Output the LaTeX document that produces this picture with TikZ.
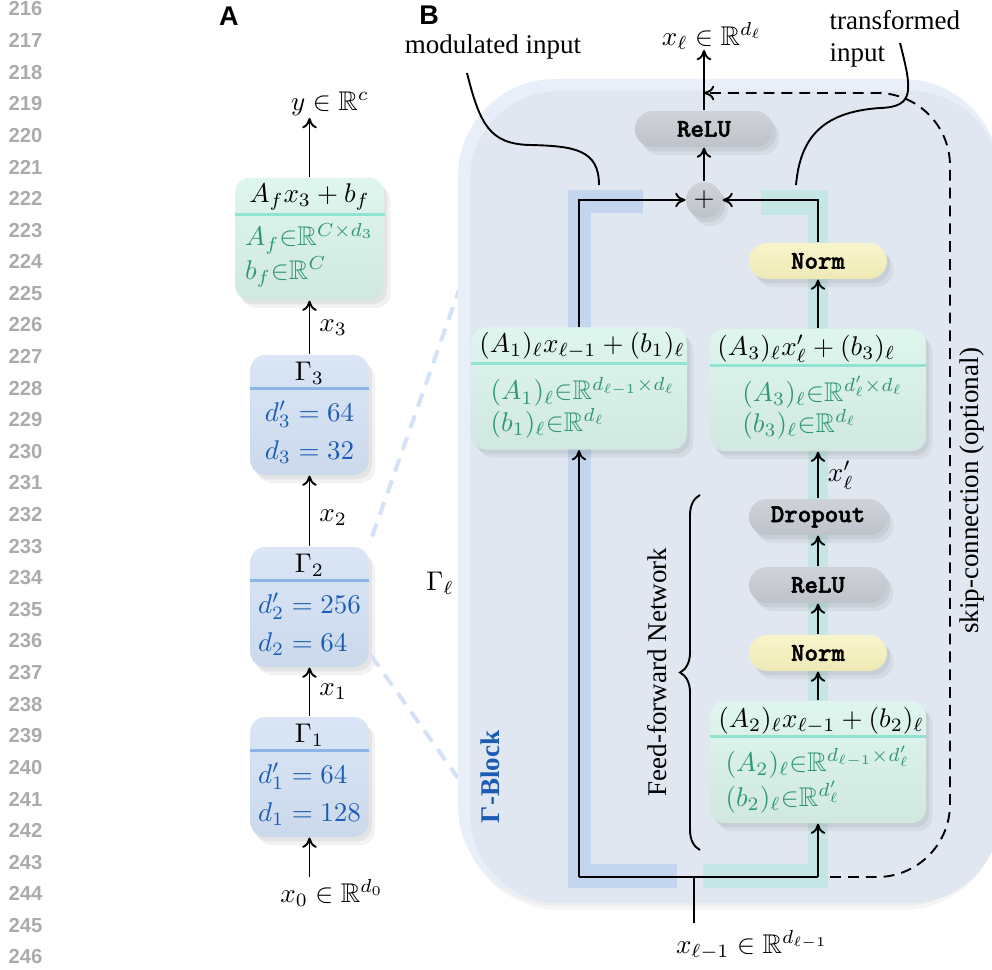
\documentclass[tikz,border=0pt]{standalone}
\usepackage[no-math]{fontspec}
\setmainfont{Liberation Serif}
\setsansfont{Liberation Sans}
\newfontfamily\pillfont{lmmonolt10-bold.otf}[FakeBold=1.8]
\usepackage{amsmath}
\usepackage{amssymb}
\usetikzlibrary{positioning,arrows.meta,decorations.pathreplacing}

\definecolor{bgpanel}{HTML}{E1E7F0}
\definecolor{bgedge}{HTML}{E9EFF8}
\definecolor{greentop}{HTML}{DFF6EF}
\definecolor{greenbot}{HTML}{D1E8E1}
\definecolor{greenhead}{HTML}{8FE3CF}
\definecolor{greentext}{HTML}{2F9678}
\definecolor{bluetop}{HTML}{DAE6F6}
\definecolor{bluebot}{HTML}{CBD9EB}
\definecolor{bluehead}{HTML}{8DB4E6}
\definecolor{bluetext}{HTML}{1C5CB5}
\definecolor{graytop}{HTML}{CFD2D9}
\definecolor{graybot}{HTML}{BEC2CA}
\definecolor{yellowtop}{HTML}{F8F4CC}
\definecolor{yellowbot}{HTML}{EFE9B4}
\definecolor{bandblue}{HTML}{C3D6EE}
\definecolor{bandgreen}{HTML}{C4E6E4}
\definecolor{zoomblue}{HTML}{D3E2F6}

\tikzset{
  >={To[length=3.8pt,width=5.4pt]},
  softshadow/.style={
      preaction={fill=black, fill opacity=0.05, transform canvas={xshift=2.4pt, yshift=-3pt}},
      preaction={fill=black, fill opacity=0.06, transform canvas={xshift=1.2pt, yshift=-1.6pt}}},
  linbox/.style={rectangle, rounded corners=5.5pt, top color=greentop,
      bottom color=greenbot, softshadow, minimum width=79.8pt,
      minimum height=45.2pt, inner sep=0pt},
  gambox/.style={rectangle, rounded corners=5.5pt, top color=bluetop,
      bottom color=bluebot, softshadow, minimum width=43.7pt,
      minimum height=44.4pt, inner sep=0pt},
  pill/.style={rectangle, rounded corners=6.6pt, minimum width=51pt,
      minimum height=13.3pt, inner sep=0pt, softshadow,
      font=\pillfont\fontsize{9.5}{10}\selectfont},
  graypill/.style={pill, top color=graytop, bottom color=graybot},
  normpill/.style={pill, top color=yellowtop, bottom color=yellowbot},
  headgreen/.style={greenhead, line width=1.1pt},
  headblue/.style={bluehead, line width=1.1pt},
  linbody/.style={align=left, text=greentext, inner sep=0pt,
      font=\fontsize{10}{11.5}\selectfont},
  gambody/.style={align=left, text=bluetext, inner sep=0pt,
      font=\fontsize{10}{14}\selectfont},
  wire/.style={line width=0.7pt},
  flow/.style={->, line width=0.7pt},
  skipline/.style={->, line width=0.7pt, dash pattern=on 4pt off 2.6pt},
  zoomline/.style={zoomblue, line width=1.5pt, dash pattern=on 5pt off 3.5pt},
  linenum/.style={anchor=east, inner sep=0pt, text=black!33,
      font=\sffamily\bfseries\fontsize{7.5}{8}\selectfont},
  panel/.style={font=\sffamily\bfseries\fontsize{10}{10}\selectfont}
}

\begin{document}
\begin{tikzpicture}[x=0.37pt,y=-0.37pt]
    \useasboundingbox (0,0) rectangle (992,970);

    % line numbers of the page
    \foreach \n in {216,...,246}
        \node[linenum] (ln\n) at (43,{9+(\n-216)*31.6}) {\n};

    \node[panel] (pa) at (229,16) {A};
    \node[panel] (pb) at (429,15) {B};

    % ---- panel A ----
    \foreach \i/\yc/\dA/\dB in {1/777/64/128, 2/607/256/64, 3/415/64/32} {
        \node[gambox] (g\i) at (309.5,\yc) {};
        \node (gt\i) at ([yshift=-6.8pt]g\i.north) {$\Gamma_\i$};
        \draw[headblue] ([yshift=-12.6pt]g\i.north west) -- ([yshift=-12.6pt]g\i.north east);
        \node[gambody] (gb\i) at ([yshift=-6.3pt]g\i.center) {$d'_\i = \dA$\\$d_\i = \dB$};
    }
    \node[linbox, minimum width=55.1pt] (fin) at (309.5,239) {};
    \node (fint) at ([yshift=-7.4pt]fin.north) {$A_f x_3 + b_f$};
    \draw[headgreen] ([yshift=-13.7pt]fin.north west) -- ([yshift=-13.7pt]fin.north east);
    \node[linbody, font=\fontsize{10}{11}\selectfont] (finb) at ([yshift=-5.9pt]fin.center)
        {$A_f{\in}\mathbb{R}^{C\times d_3}$\\$b_f{\in}\mathbb{R}^{C}$};

    \coordinate (x0in) at (309.5,877);
    \coordinate (yout) at (309.5,118);
    \node (x0lbl) at (332,893) {$x_0\in\mathbb{R}^{d_0}$};
    \node (ylbl) at (330,104) {$y\in\mathbb{R}^c$};
    \draw[flow] (x0in) -- (g1);
    \draw[flow] (g1) -- node[right] {$x_1$} (g2);
    \draw[flow] (g2) -- node[right, pos=0.4] {$x_2$} (g3);
    \draw[flow] (g3) -- node[right] {$x_3$} (fin);
    \draw[flow] (fin) -- (yout);

    \coordinate (zoomtop) at (459,290);
    \coordinate (zoombot) at (458,778);
    \draw[zoomline] ([shift={(3,-10)}]g2.north east) -- (zoomtop);
    \draw[zoomline] ([shift={(2,-12)}]g2.south east) -- (zoombot);
    \node (gl) at (440,583) {$\Gamma_\ell$};

    % ---- panel B ----
    \fill[black, fill opacity=0.04, rounded corners=36pt] (462,86) rectangle (1000,910);
    \fill[black, fill opacity=0.03, rounded corners=36pt] (460,82) rectangle (1000,906);
    \fill[bgedge, rounded corners=36pt] (458,79) rectangle (1000,903);
    \fill[bgpanel, rounded corners=33pt] (470,91) rectangle (1000,903);

    \fill[bandblue] (568,190) rectangle (591,888);
    \fill[bandblue] (591,190) rectangle (643,213);
    \fill[bandblue] (591,864) rectangle (677,888);
    \fill[bandgreen] (808,190) rectangle (828,888);
    \fill[bandgreen] (761,190) rectangle (808,215);
    \fill[bandgreen] (703,864) rectangle (808,888);

    \node[circle, minimum size=13.3pt, inner sep=0pt, top color=graytop,
        bottom color=graybot, softshadow] (plus) at (704,200) {$+$};
    \node[graypill] (relu1) at (704,129) {ReLU};
    \node[normpill] (norm1) at (818,261) {Norm};
    \node[graypill] (drop) at (818,517) {Dropout};
    \node[graypill] (relu2) at (818,585) {ReLU};
    \node[normpill] (norm2) at (818,653) {Norm};

    \node[linbox] (lin1) at (579,388.5) {};
    \node[anchor=west, inner sep=0pt] (lin1t) at ([shift={(3pt,-7pt)}]lin1.north west)
        {$(A_1)_\ell x_{\ell-1} + (b_1)_\ell$};
    \draw[headgreen] ([yshift=-13.6pt]lin1.north west) -- ([yshift=-13.6pt]lin1.north east);
    \node[linbody] (lin1b) at ([shift={(1.5pt,-7pt)}]lin1.center)
        {$(A_1)_\ell{\in}\mathbb{R}^{d_{\ell-1}\times d_\ell}$\\$(b_1)_\ell{\in}\mathbb{R}^{d_\ell}$};

    \node[linbox] (lin3) at (818,390) {};
    \node[anchor=west, inner sep=0pt] (lin3t) at ([shift={(2.7pt,-7.6pt)}]lin3.north west)
        {$(A_3)_\ell x'_\ell + (b_3)_\ell$};
    \draw[headgreen] ([yshift=-13.6pt]lin3.north west) -- ([yshift=-13.6pt]lin3.north east);
    \node[linbody] (lin3b) at ([shift={(1.8pt,-6.5pt)}]lin3.center)
        {$(A_3)_\ell{\in}\mathbb{R}^{d'_\ell\times d_\ell}$\\$(b_3)_\ell{\in}\mathbb{R}^{d_\ell}$};

    \node[linbox] (lin2) at (818,762) {};
    \node[anchor=west, inner sep=0pt] (lin2t) at ([shift={(3pt,-7.6pt)}]lin2.north west)
        {$(A_2)_\ell x_{\ell-1} + (b_2)_\ell$};
    \draw[headgreen] ([yshift=-13.3pt]lin2.north west) -- ([yshift=-13.3pt]lin2.north east);
    \node[linbody, font=\fontsize{10}{13}\selectfont] (lin2b) at ([yshift=-6.5pt]lin2.center)
        {$(A_2)_\ell{\in}\mathbb{R}^{d_{\ell-1}\times d'_\ell}$\\$(b_2)_\ell{\in}\mathbb{R}^{d'_\ell}$};

    \coordinate (xout) at (704,50);
    \node (xllbl) at (712,36) {$x_\ell\in\mathbb{R}^{d_\ell}$};
    \coordinate (inbot) at (694,923);
    \coordinate (injoin) at (694,877);
    \coordinate (trunkl) at (579,877);
    \coordinate (trunkr) at (818,877);
    \node (xinlbl) at (752,945) {$x_{\ell-1}\in\mathbb{R}^{d_{\ell-1}}$};

    \draw[wire] (inbot) -- (injoin);
    \draw[wire] (trunkl) -- (trunkr);
    \draw[flow] (trunkl) -- (lin1);
    \draw[flow] (lin1) |- (plus);
    \draw[flow] (trunkr) -- (lin2);
    \draw[flow] (lin2) -- (norm2);
    \draw[flow] (norm2) -- (relu2);
    \draw[flow] (relu2) -- (drop);
    \draw[flow] (drop) -- node[right] {$x'_\ell$} (lin3);
    \draw[flow] (lin3) -- (norm1);
    \draw[flow] (norm1) |- (plus);
    \draw[flow] (plus) -- (relu1);
    \draw[flow] (relu1) -- (xout);

    % optional skip
    \coordinate (skipin) at (704,93);
    \draw[skipline, rounded corners=27pt, shorten <=4.5pt]
        (trunkr) -- (950,877) -- (950,93) -- (skipin);
    \node[rotate=90] (skiplbl) at (972,491) {skip-connection (optional)};

    % feed-forward brace
    \coordinate (brbot) at (700,850);
    \coordinate (brtop) at (700,495);
    \draw[wire, decorate, decoration={brace, amplitude=7.4pt}] (brbot) -- (brtop);
    \node[rotate=90] (ffn) at (657,672) {Feed-forward Network};
    \node[rotate=90, text=bluetext, font=\bfseries] (gblock) at (490,777) {Γ-Block};

    % callouts
    \node (modlbl) at (493,47) {modulated input};
    \coordinate (modstart) at (467,73);
    \coordinate (modtip) at (599,185);
    \draw[wire] (modstart) .. controls (480,125) and (490,144) .. (530,145)
        .. controls (575,146) and (599,150) .. (modtip);
    \node[align=left, anchor=west] (trlbl) at (820,39) {transformed\\input};
    \coordinate (trstart) at (900,43);
    \coordinate (trtip) at (796,185);
    \draw[wire] (trstart) .. controls (912,90) and (915,107) .. (880,108)
        .. controls (820,112) and (800,140) .. (trtip);
\end{tikzpicture}
\end{document}
